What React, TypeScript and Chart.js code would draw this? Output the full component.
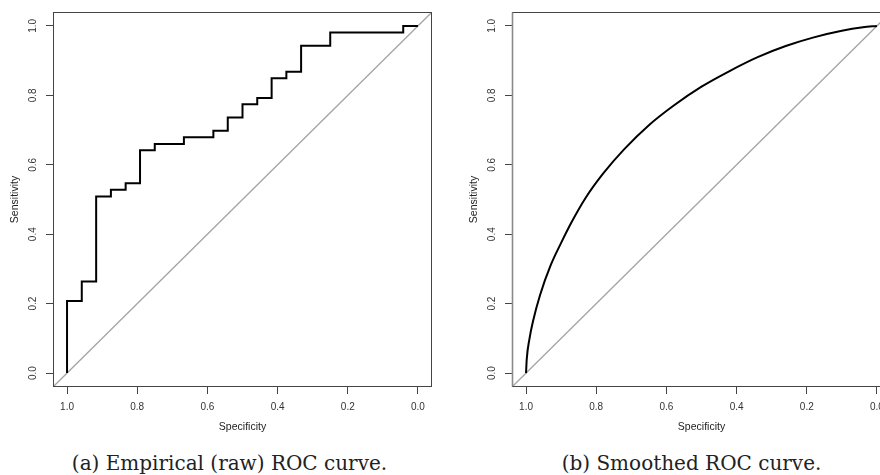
import React, { useEffect, useRef } from "react";
import { Chart, registerables } from "chart.js";

Chart.register(...registerables);

// ---- data ----
const tickValues = [0, 0.2, 0.4, 0.6, 0.8, 1.0];

// Empirical ROC curve vertices (specificity, sensitivity)
const rawSpecificity = [
  1, 1, 0.958, 0.958, 0.917, 0.917, 0.875, 0.875, 0.833, 0.833, 0.792, 0.792,
  0.75, 0.75, 0.667, 0.667, 0.583, 0.583, 0.542, 0.542, 0.5, 0.5, 0.458, 0.458,
  0.417, 0.417, 0.375, 0.375, 0.333, 0.333, 0.25, 0.25, 0.042, 0.042, 0,
];
const rawSensitivity = [
  0, 0.208, 0.208, 0.264, 0.264, 0.509, 0.509, 0.528, 0.528, 0.547, 0.547, 0.642,
  0.642, 0.66, 0.66, 0.679, 0.679, 0.698, 0.698, 0.736, 0.736, 0.774, 0.774, 0.792,
  0.792, 0.849, 0.849, 0.868, 0.868, 0.943, 0.943, 0.981, 0.981, 1, 1,
];

// Smoothed ROC curve (specificity, sensitivity)
const smoothSpecificity = [
  1, 0.998, 0.99, 0.98, 0.96, 0.93, 0.9, 0.87, 0.83, 0.78, 0.72, 0.65, 0.58,
  0.5, 0.42, 0.34, 0.26, 0.18, 0.1, 0.04, 0,
];
const smoothSensitivity = [
  0, 0.04, 0.1, 0.15, 0.225, 0.31, 0.375, 0.435, 0.505, 0.575, 0.645, 0.714, 0.77,
  0.825, 0.87, 0.91, 0.942, 0.967, 0.986, 0.996, 1,
];

// Chance diagonal
const chanceSpecificity = [1.04, -0.04];
const chanceSensitivity = [-0.04, 1.04];

const axisMin = -0.04;
const axisMax = 1.04;

const xTitle = "Specificity";
const yTitle = "Sensitivity";
const captions = ["(a) Empirical (raw) ROC curve.", "(b) Smoothed ROC curve."];

const SANS = "'Liberation Sans', Arial, Helvetica, sans-serif";

function toPoints(xs: number[], ys: number[]) {
  return xs.map((x, i) => ({ x, y: ys[i] }));
}

type PanelProps = {
  spec: number[];
  sens: number[];
  smooth: boolean;
  left: number;
  leftEdgeColor: string;
};

function RocPanel({ spec, sens, smooth, left, leftEdgeColor }: PanelProps) {
  const ref = useRef<HTMLCanvasElement>(null);

  useEffect(() => {
    if (!ref.current) return;
    const boxPlugin = {
      id: "rocBox",
      afterDatasetsDraw(chart: any) {
        const { ctx, chartArea: a } = chart;
        const l = Math.round(a.left) + 0.5;
        const t = Math.round(a.top) + 0.5;
        const r = Math.round(a.right) - 0.5;
        const b = Math.round(a.bottom) - 0.5;
        ctx.save();
        ctx.lineWidth = 1;
        ctx.strokeStyle = "#444";
        ctx.strokeRect(l, t, r - l, b - t);
        ctx.strokeStyle = leftEdgeColor;
        ctx.lineWidth = leftEdgeColor === "#444" ? 1 : 1.6;
        ctx.beginPath();
        ctx.moveTo(l, t);
        ctx.lineTo(l, b);
        ctx.stroke();
        ctx.restore();
      },
    };

    const tickFont = { family: SANS, size: 10 };
    const titleFont = { family: SANS, size: 10.5 };
    const setTicks = (s: any) => {
      s.ticks = tickValues.map((v) => ({ value: v }));
    };

    const chart = new Chart(ref.current, {
      type: "line",
      data: {
        datasets: [
          {
            data: toPoints(spec, sens),
            borderColor: "#000",
            borderWidth: 2,
            pointRadius: 0,
            tension: 0,
            cubicInterpolationMode: smooth ? "monotone" : "default",
            fill: false,
          },
          {
            data: toPoints(chanceSpecificity, chanceSensitivity),
            borderColor: "#a4a4a4",
            borderWidth: 1.3,
            pointRadius: 0,
            tension: 0,
            fill: false,
          },
        ],
      },
      options: {
        animation: false,
        responsive: false,
        events: [],
        layout: { padding: { left: 0, top: 9, right: 8, bottom: 0 } },
        plugins: {
          legend: { display: false },
          tooltip: { enabled: false },
        },
        scales: {
          x: {
            type: "linear",
            reverse: true,
            min: axisMin,
            max: axisMax,
            afterBuildTicks: setTicks,
            afterFit: (s: any) => {
              s.height = 53;
            },
            border: { display: false },
            grid: {
              drawOnChartArea: false,
              drawTicks: true,
              tickLength: 7,
              color: "#444",
            },
            ticks: {
              padding: 7,
              color: "#333",
              font: tickFont,
              maxRotation: 0,
              minRotation: 0,
              autoSkip: false,
              callback: (v: any) => Number(v).toFixed(1),
            },
            title: {
              display: true,
              text: xTitle,
              color: "#222",
              font: titleFont,
              padding: { top: 0, bottom: 6.4 },
            },
          },
          y: {
            type: "linear",
            min: axisMin,
            max: axisMax,
            afterBuildTicks: setTicks,
            afterFit: (s: any) => {
              s.width = 53;
            },
            border: { display: false },
            grid: {
              drawOnChartArea: false,
              drawTicks: true,
              tickLength: 7,
              color: "#444",
            },
            ticks: {
              padding: 6,
              color: "#333",
              font: tickFont,
              minRotation: 90,
              maxRotation: 90,
              crossAlign: "center",
              autoSkip: false,
              callback: (v: any) => Number(v).toFixed(1),
            },
            title: {
              display: true,
              text: yTitle,
              color: "#222",
              font: titleFont,
              padding: { top: 8.7, bottom: 0 },
            },
          },
        },
      },
      plugins: [boxPlugin],
    } as any);

    return () => chart.destroy();
  }, [spec, sens, smooth, leftEdgeColor]);

  return (
    <div style={{ position: "absolute", left, top: 0, width: 440, height: 440 }}>
      <canvas ref={ref} width={440} height={440} style={{ width: 440, height: 440, display: "block" }} />
    </div>
  );
}

const captionStyle: React.CSSProperties = {
  position: "absolute",
  top: 453,
  width: 400,
  textAlign: "center",
  fontFamily: "'DejaVu Serif', serif",
  fontSize: 20,
  lineHeight: "20px",
  color: "#222",
  whiteSpace: "nowrap",
};

export default function App() {
  return (
    <div
      style={{
        position: "absolute",
        left: 0,
        top: 0,
        width: 880,
        height: 475,
        overflow: "hidden",
        background: "#fff",
      }}
    >
      <RocPanel spec={rawSpecificity} sens={rawSensitivity} smooth={false} left={0} leftEdgeColor="#444" />
      <RocPanel spec={smoothSpecificity} sens={smoothSensitivity} smooth={true} left={459} leftEdgeColor="#8a8a8a" />
      <div style={{ ...captionStyle, left: 229.5 - 200 }}>{captions[0]}</div>
      <div style={{ ...captionStyle, left: 691.5 - 200 }}>{captions[1]}</div>
    </div>
  );
}
